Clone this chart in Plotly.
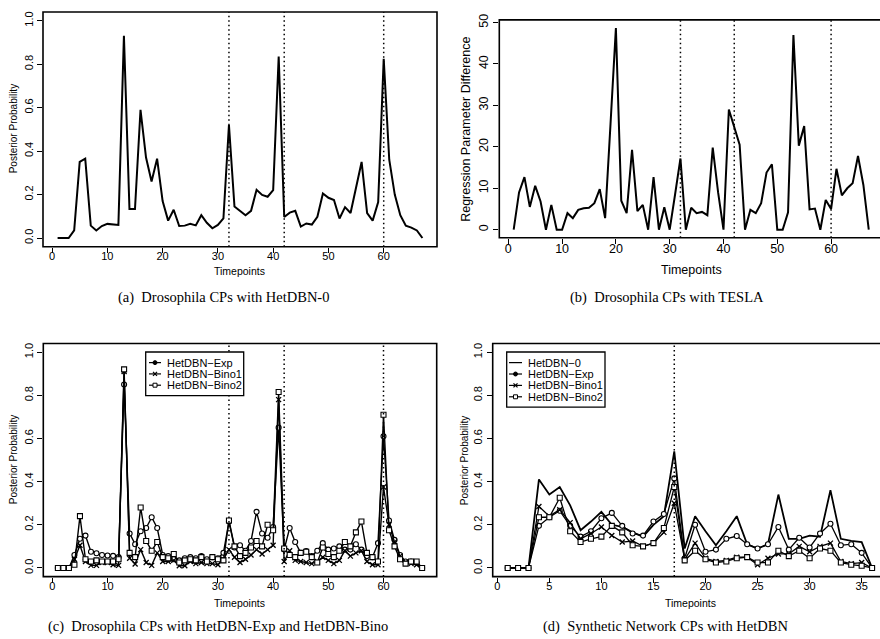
import plotly.graph_objects as go

# ---------------- data ----------------
t67 = list(range(1, 68))
t36 = list(range(1, 37))

hetdbn0_dros = [0, 0, 0, 0.035, 0.35, 0.365, 0.057, 0.035, 0.055, 0.065,
                0.063, 0.06, 0.93, 0.133, 0.133, 0.59, 0.37, 0.26, 0.365, 0.17,
                0.08, 0.13, 0.055, 0.057, 0.065, 0.058, 0.105, 0.07, 0.045, 0.06,
                0.09, 0.52, 0.145, 0.125, 0.105, 0.125, 0.222, 0.198, 0.19, 0.22,
                0.835, 0.097, 0.117, 0.125, 0.053, 0.067, 0.062, 0.098, 0.205, 0.185,
                0.175, 0.09, 0.142, 0.115, 0.235, 0.35, 0.115, 0.08, 0.165, 0.825,
                0.36, 0.2, 0.105, 0.057, 0.048, 0.035, 0.0]

tesla_dros = [0, 9, 12.7, 5.5, 10.6, 6.8, 0, 6, 0, 0,
              4, 2.8, 4.8, 5.2, 5.3, 6.4, 9.8, 2.8, 25.5, 48.7,
              7, 4, 19.3, 4.5, 6, 0, 12.7, 0, 5.4, 0,
              8.5, 17.2, 0, 5.3, 4, 4.3, 3.5, 19.8, 9, 0,
              29, 25, 20.5, 0, 4.8, 4, 6.4, 13.8, 15.8, 0,
              0, 4.2, 47, 20.3, 25, 4.9, 5.1, 0, 7.2, 5,
              14.7, 8.3, 10, 11.2, 17.8, 10.8, 0]

exp_dros = [0, 0, 0, 0.06, 0.135, 0.15, 0.075, 0.068, 0.06, 0.058,
            0.056, 0.05, 0.85, 0.16, 0.11, 0.17, 0.185, 0.235, 0.185, 0.06,
            0.055, 0.04, 0.035, 0.045, 0.05, 0.045, 0.055, 0.04, 0.05, 0.045,
            0.07, 0.215, 0.095, 0.105, 0.08, 0.125, 0.26, 0.16, 0.14, 0.19,
            0.65, 0.085, 0.185, 0.12, 0.07, 0.078, 0.055, 0.08, 0.115, 0.085,
            0.09, 0.1, 0.085, 0.085, 0.11, 0.085, 0.055, 0.05, 0.115, 0.61,
            0.22, 0.13, 0.06, 0.03, 0.03, 0.025, 0.0]

bino1_dros = [0, 0, 0, 0.04, 0.105, 0.03, 0.012, 0.012, 0.025, 0.025,
              0.015, 0.012, 0.91, 0.045, 0.018, 0.085, 0.025, 0.012, 0.07, 0.03,
              0.03, 0.035, 0.01, 0.01, 0.03, 0.02, 0.025, 0.02, 0.02, 0.015,
              0.04, 0.085, 0.05, 0.025, 0.04, 0.06, 0.085, 0.065, 0.085, 0.105,
              0.78, 0.03, 0.08, 0.035, 0.03, 0.025, 0.02, 0.03, 0.05, 0.035,
              0.02, 0.035, 0.08, 0.055, 0.07, 0.08, 0.03, 0.015, 0.015, 0.375,
              0.2, 0.12, 0.055, 0.025, 0.02, 0.015, 0.0]

bino2_dros = [0, 0, 0, 0.015, 0.24, 0.04, 0.03, 0.035, 0.03, 0.03,
              0.03, 0.04, 0.92, 0.07, 0.05, 0.28, 0.125, 0.08, 0.12, 0.05,
              0.045, 0.065, 0.025, 0.035, 0.04, 0.035, 0.05, 0.03, 0.05, 0.04,
              0.035, 0.22, 0.1, 0.055, 0.07, 0.095, 0.125, 0.1, 0.2, 0.175,
              0.815, 0.09, 0.06, 0.05, 0.07, 0.075, 0.05, 0.025, 0.095, 0.065,
              0.05, 0.08, 0.12, 0.1, 0.165, 0.215, 0.07, 0.05, 0.03, 0.71,
              0.175, 0.1, 0.04, 0.02, 0.03, 0.03, 0.0]

hetdbn0_syn = [0, 0, 0, 0.41, 0.34, 0.375, 0.29, 0.175, 0.215, 0.26,
               0.2, 0.19, 0.165, 0.145, 0.2, 0.24, 0.54, 0.09, 0.24, 0.17,
               0.105, 0.17, 0.24, 0.11, 0.09, 0.11, 0.34, 0.135, 0.135, 0.15,
               0.145, 0.36, 0.135, 0.125, 0.12, 0.0]

exp_syn = [0, 0, 0, 0.195, 0.235, 0.265, 0.195, 0.145, 0.17, 0.23,
           0.255, 0.195, 0.16, 0.15, 0.215, 0.25, 0.415, 0.045, 0.2, 0.075,
           0.085, 0.135, 0.148, 0.11, 0.09, 0.11, 0.19, 0.085, 0.14, 0.095,
           0.16, 0.205, 0.105, 0.11, 0.07, 0.0]

bino1_syn = [0, 0, 0, 0.285, 0.24, 0.27, 0.21, 0.135, 0.16, 0.19,
             0.15, 0.12, 0.125, 0.1, 0.115, 0.165, 0.3, 0.04, 0.115, 0.045,
             0.03, 0.035, 0.05, 0.05, 0.015, 0.045, 0.065, 0.065, 0.1, 0.075,
             0.1, 0.115, 0.03, 0.02, 0.025, 0.0]

bino2_syn = [0, 0, 0, 0.235, 0.235, 0.325, 0.17, 0.12, 0.135, 0.145,
             0.195, 0.165, 0.105, 0.1, 0.115, 0.185, 0.375, 0.035, 0.08, 0.04,
             0.025, 0.03, 0.045, 0.05, 0.025, 0.025, 0.08, 0.055, 0.08, 0.045,
             0.09, 0.08, 0.025, 0.015, 0.01, 0.0]

cps_dros = [32, 42, 60]
cps_syn = [17]

prob_ticks = [0.0, 0.2, 0.4, 0.6, 0.8, 1.0]
tesla_ticks = [0, 10, 20, 30, 40, 50]
dros_xticks = [0, 10, 20, 30, 40, 50, 60]
syn_xticks = [0, 5, 10, 15, 20, 25, 30, 35]

legend_c = ["HetDBN\u2212Exp", "HetDBN\u2212Bino1", "HetDBN\u2212Bino2"]
legend_d = ["HetDBN\u22120", "HetDBN\u2212Exp", "HetDBN\u2212Bino1", "HetDBN\u2212Bino2"]

captions = ["(a)  Drosophila CPs with HetDBN-0",
            "(b)  Drosophila CPs with TESLA",
            "(c)  Drosophila CPs with HetDBN-Exp and HetDBN-Bino",
            "(d)  Synthetic Network CPs with HetDBN"]

# ---------------- layout helpers ----------------
W, H = 880, 639
SANS = "Liberation Sans, Arial, sans-serif"
SERIF = "Liberation Serif, Times New Roman, serif"
DOT = "1.5px,3px"

def px(x):
    return x / W

def py(y):
    return 1 - y / H

fig = go.Figure()

mk_exp = dict(symbol="circle", size=5, color="white", line=dict(color="black", width=1.1))
mk_b1 = dict(symbol="x-thin", size=5, color="black", line=dict(color="black", width=1.3))
mk_b2 = dict(symbol="square", size=5, color="white", line=dict(color="black", width=1.1))

# panel a
fig.add_trace(go.Scatter(x=t67, y=hetdbn0_dros, mode="lines", line=dict(color="black", width=2),
                         xaxis="x", yaxis="y"))
# panel b
fig.add_trace(go.Scatter(x=t67, y=tesla_dros, mode="lines", line=dict(color="black", width=2),
                         xaxis="x2", yaxis="y2"))
# panel c
for name, ys, mk in zip(legend_c, [exp_dros, bino1_dros, bino2_dros], [mk_exp, mk_b1, mk_b2]):
    fig.add_trace(go.Scatter(x=t67, y=ys, mode="lines+markers", name=name,
                             line=dict(color="black", width=1.4), marker=mk,
                             xaxis="x3", yaxis="y3"))
# panel d
fig.add_trace(go.Scatter(x=t36, y=hetdbn0_syn, mode="lines", name=legend_d[0],
                         line=dict(color="black", width=1.8), xaxis="x4", yaxis="y4"))
for name, ys, mk in zip(legend_d[1:], [exp_syn, bino1_syn, bino2_syn], [mk_exp, mk_b1, mk_b2]):
    fig.add_trace(go.Scatter(x=t36, y=ys, mode="lines+markers", name=name,
                             line=dict(color="black", width=1.3), marker=mk,
                             xaxis="x4", yaxis="y4"))

def xax(domain, rng, ticks, fs, anchor):
    return dict(domain=domain, range=rng, tickvals=ticks, ticks="outside", ticklen=5,
                tickwidth=1, tickcolor="black", showgrid=False, zeroline=False,
                showline=False, anchor=anchor, ticklabelstandoff=-6,
                tickfont=dict(family=SANS, size=fs, color="black"))

def yax(domain, rng, ticks, fs, anchor, fmt):
    return dict(domain=domain, range=rng, tickvals=ticks, ticks="outside", ticklen=5,
                tickwidth=1, tickcolor="black", showgrid=False, zeroline=False,
                showline=False, tickangle=-90, tickformat=fmt, anchor=anchor,
                tickfont=dict(family=SANS, size=fs, color="black"))

# pixel boxes: (left, top, right, bottom)
box_a = (43, 6, 437, 243)
box_b = (499.3, 14, 880, 234)
box_c = (43.3, 340.7, 436.7, 576)
box_d = (492.7, 340.7, 880, 576)

fig.update_layout(
    xaxis=xax([px(box_a[0]), px(box_a[2])], [-1.64, 69.64], dros_xticks, 11, "y"),
    yaxis=yax([py(box_a[3]), py(box_a[1])], [-0.04, 1.04], prob_ticks, 11, "x", ".1f"),
    xaxis2=xax([px(box_b[0]), 1], [-1.67, 69.09], dros_xticks, 12.5, "y2"),
    yaxis2=yax([py(box_b[3]), py(box_b[1])], [-1.95, 50.65], tesla_ticks, 12.5, "x2", "d"),
    xaxis3=xax([px(box_c[0]), px(box_c[2])], [-1.64, 69.64], dros_xticks, 11, "y3"),
    yaxis3=yax([py(box_c[3]), py(box_c[1])], [-0.04, 1.04], prob_ticks, 11, "x3", ".1f"),
    xaxis4=xax([px(box_d[0]), 1], [-0.44, 36.76], syn_xticks, 11, "y4"),
    yaxis4=yax([py(box_d[3]), py(box_d[1])], [-0.04, 1.04], prob_ticks, 11, "x4", ".1f"),
    showlegend=False,
)

shapes = []
# boxes
for (l, t, r, b) in [box_a, box_b, box_c, box_d]:
    r_ext = r + 10 if r >= 880 else r
    shapes.append(dict(type="rect", xref="paper", yref="paper", x0=px(l), x1=px(r_ext),
                       y0=py(b), y1=py(t), line=dict(color="black", width=1.6),
                       fillcolor="rgba(0,0,0,0)", layer="above"))
# dotted change-point lines
for ax in ["", "2", "3"]:
    for cp in cps_dros:
        shapes.append(dict(type="line", xref="x" + ax, yref="y" + ax + " domain",
                           x0=cp, x1=cp, y0=0, y1=1,
                           line=dict(color="black", width=1.5, dash=DOT)))
for cp in cps_syn:
    shapes.append(dict(type="line", xref="x4", yref="y4 domain", x0=cp, x1=cp, y0=0, y1=1,
                       line=dict(color="black", width=1.5, dash=DOT)))

ann = []
def text(x, y, s, size, family=SANS, angle=0, xanchor="center"):
    ann.append(dict(x=px(x), y=py(y), xref="paper", yref="paper", text=s, showarrow=False,
                    xanchor=xanchor, yanchor="middle", textangle=angle,
                    font=dict(family=family, size=size, color="black")))

text(13, 124.5, "Posterior Probability", 10, angle=-90)
text(466.5, 124.5, "Regression Parameter Difference", 12.5, angle=-90)
text(13, 458.5, "Posterior Probability", 10, angle=-90)
text(464, 458.5, "Posterior Probability", 10, angle=-90)
text(240, 268, "Timepoints", 10.5)
text(691, 267, "Timepoints", 12.5)
text(240, 602.7, "Timepoints", 10.5)
text(690, 602.7, "Timepoints", 10.5)
text(224, 294, captions[0], 14.5, SERIF)
text(667, 294, captions[1], 14.5, SERIF)
text(218, 626, captions[2], 14.5, SERIF)
text(665, 626, captions[3], 14.5, SERIF)

# ---------------- hand-drawn R-style legends ----------------
def legend_box(l, t, r, b, labels, kinds, seg_x0, seg_x1, text_x, row_y0, row_dy):
    shapes.append(dict(type="rect", xref="paper", yref="paper", x0=px(l), x1=px(r),
                       y0=py(b), y1=py(t), line=dict(color="black", width=1.3),
                       fillcolor="white", layer="above"))
    for i, (lab, kind) in enumerate(zip(labels, kinds)):
        yy = row_y0 + i * row_dy
        shapes.append(dict(type="line", xref="paper", yref="paper", x0=px(seg_x0), x1=px(seg_x1),
                           y0=py(yy), y1=py(yy), line=dict(color="black", width=1.2), layer="above"))
        cx = (seg_x0 + seg_x1) / 2
        s = 2.0
        if kind == "circle":
            shapes.append(dict(type="circle", xref="paper", yref="paper", x0=px(cx - s), x1=px(cx + s),
                               y0=py(yy + s), y1=py(yy - s), fillcolor="black",
                               line=dict(color="black", width=1), layer="above"))
        elif kind == "square":
            shapes.append(dict(type="rect", xref="paper", yref="paper", x0=px(cx - s), x1=px(cx + s),
                               y0=py(yy + s), y1=py(yy - s), fillcolor="white",
                               line=dict(color="black", width=1), layer="above"))
        elif kind == "x":
            for d in (1, -1):
                shapes.append(dict(type="line", xref="paper", yref="paper", x0=px(cx - s), x1=px(cx + s),
                                   y0=py(yy - d * s), y1=py(yy + d * s),
                                   line=dict(color="black", width=1.2), layer="above"))
        text(text_x, yy, lab, 11, xanchor="left")

legend_box(145.7, 349.3, 243.7, 393.3, legend_c, ["circle", "x", "square"],
           149, 161, 165, 360, 11.4)
legend_box(506.7, 349.3, 605, 405, legend_d, ["line", "circle", "x", "square"],
           509, 522, 526, 360, 11.5)

fig.update_layout(
    width=W, height=H, margin=dict(l=0, r=0, t=0, b=0),
    paper_bgcolor="white", plot_bgcolor="white",
    shapes=shapes, annotations=ann,
)

fig.write_html("out.html", config={"displayModeBar": False},
               post_script="document.body.style.margin='0';document.body.style.overflow='hidden';")
